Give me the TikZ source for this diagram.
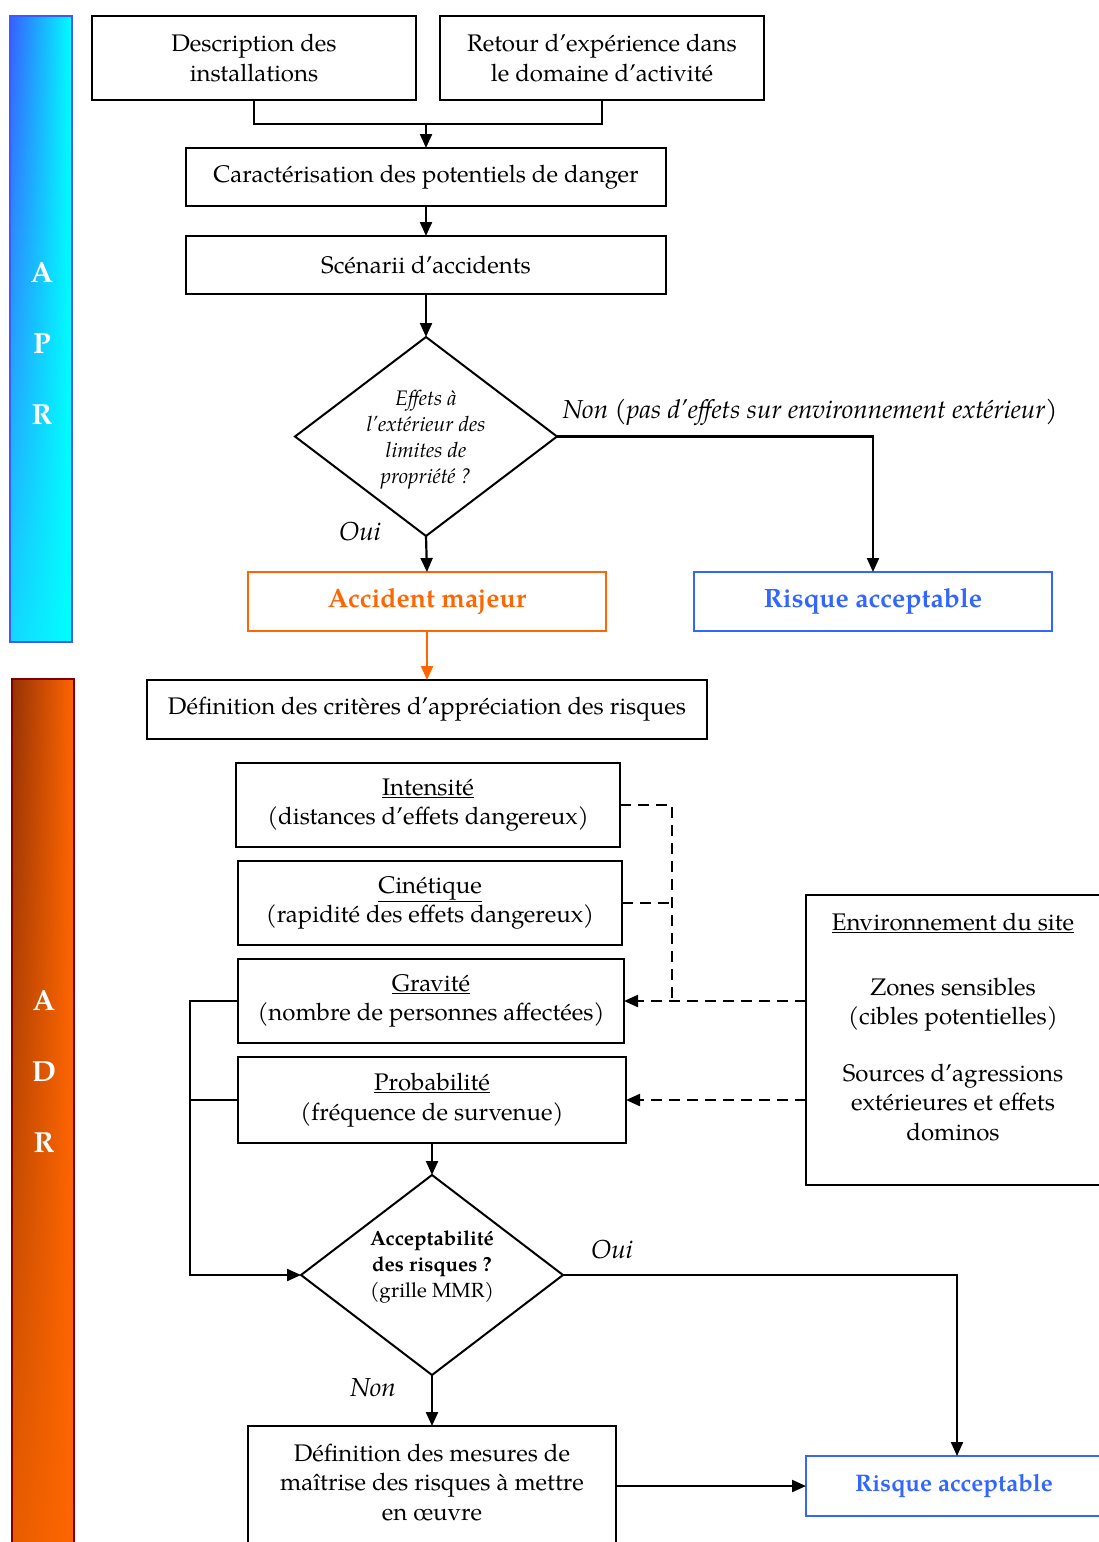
\documentclass[tikz,border=0pt]{standalone}
\usepackage{fontspec}
\setmainfont{TeX Gyre Pagella}
\usetikzlibrary{shapes.geometric,arrows.meta,shadings}
\definecolor{orng}{RGB}{255,102,0}
\definecolor{rblue}{RGB}{51,102,255}
\definecolor{aprblue}{RGB}{55,95,255}
\definecolor{aprmid}{RGB}{20,215,255}
\definecolor{aprborder}{RGB}{60,90,255}
\definecolor{adrdark}{RGB}{150,50,5}
\definecolor{adrmid}{RGB}{235,95,0}
\definecolor{adrborder}{RGB}{128,0,0}
\begin{document}
\begin{tikzpicture}[x=1pt,y=-1pt,
  every node/.style={font=\fontsize{24}{29.5}\selectfont},
  box/.style={draw, line width=2pt, inner sep=0pt, outer sep=0pt, align=center, anchor=north west},
  dia/.style={draw, diamond, line width=2pt, inner sep=0pt, outer sep=0pt},
  arr/.style={line width=2.2pt, -{Triangle[length=14pt,width=12pt]}},
  ln/.style={line width=2.2pt},
  dsh/.style={line width=2.2pt, dash pattern=on 11pt off 7pt},
  dsharr/.style={dsh, -{Triangle[length=14pt,width=12pt]}},
  lbl/.style={font=\fontsize{26}{28}\selectfont\itshape},
  bar/.style={font=\fontsize{29}{30}\selectfont\bfseries, text=white},
  hl/.style={font=\fontsize{26.5}{28}\selectfont\bfseries},
  dtxt/.style={align=center, font=\fontsize{21}{26}\selectfont\itshape},
  d2txt/.style={align=center, font=\fontsize{20.5}{26}\selectfont}
]
\useasboundingbox (0,0) rectangle (1099,1542);
\clip (0,0) rectangle (1099,1542);
\fill[white] (0,0) rectangle (1099,1542);

% --- APR bar ---
\node[anchor=north west, minimum width=62, minimum height=626, inner sep=0pt, outer sep=0pt] (apr) at (10,16) {};
\shade[upper left=aprblue, upper right=cyan, lower left=aprmid, lower right=cyan]
  (apr.north west) rectangle (apr.south east);
\draw[aprborder, line width=1.5pt] (apr.north west) rectangle (apr.south east);
\node[bar] (aprA) at (42,273) {A};
\node[bar] (aprP) at (42,344) {P};
\node[bar] (aprR) at (42,415) {R};

% --- ADR bar ---
\node[anchor=north west, minimum width=62, minimum height=900, inner sep=0pt, outer sep=0pt] (adr) at (12,679) {};
\shade[upper left=adrdark, upper right=orng, lower left=adrmid, lower right=orng]
  (adr.north west) rectangle (adr.south east);
\draw[adrborder, line width=1.5pt] (adr.north west) rectangle (adr.south east);
\node[bar] (adrA) at (44,1001) {A};
\node[bar] (adrD) at (44,1072) {D};
\node[bar] (adrR) at (44,1143) {R};

% --- top boxes ---
\node[box, minimum width=324, minimum height=84] (desc) at (92,16) {Description des\\installations};
\node[box, minimum width=324, minimum height=84] (ret) at (440,16) {Retour d’expérience dans\\le domaine d’activité};
\node[box, minimum width=480, minimum height=58] (car) at (186,148) {Caractérisation des potentiels de danger};
\node[box, minimum width=480, minimum height=58] (scen) at (186,236) {Scénarii d’accidents};
\coordinate (j1) at (426,124);
\draw[ln] (desc.south) |- (j1) -| (ret.south);
\draw[arr] (j1) -- (car.north);
\draw[arr] (car.south) -- (scen.north);

% --- diamond 1 ---
\node[dia, minimum width=262, minimum height=199] (d1) at (426,436.5) {};
\node[dtxt] (d1t) at (426,440) {Effets à\\l’extérieur des\\limites de\\propriété ?};
\draw[arr] (scen.south) -- (d1.north);

\node[box, draw=orng, minimum width=358, minimum height=59, text=orng, hl] (acc) at (248,572) {Accident majeur};
\node[box, draw=rblue, minimum width=358, minimum height=59, text=rblue, hl] (r1) at (694,572) {Risque acceptable};
\draw[arr] (d1.south) -- (acc.north);
\draw[arr] (d1.east) -| (r1.north);
\node[lbl] (non1) at (810,412) {Non (pas d’effets sur environnement extérieur)};
\node[lbl] (oui1) at (360,532) {Oui};

% --- ADR part ---
\node[box, minimum width=560, minimum height=59] (def) at (147,680) {Définition des critères d’appréciation des risques};
\draw[arr, draw=orng, -{Triangle[length=14pt,width=12pt,fill=orng]}] (acc.south) -- (def.north);

\node[box, minimum width=384, minimum height=84] (int) at (236,763) {\underline{Intensité}\\(distances d’effets dangereux)};
\node[box, minimum width=384, minimum height=84] (cin) at (238,861) {\underline{Cinétique}\\(rapidité des effets dangereux)};
\node[box, minimum width=386, minimum height=84] (grav) at (238,959) {\underline{Gravité}\\(nombre de personnes affectées)};
\node[box, minimum width=388, minimum height=86] (prob) at (238,1057) {\underline{Probabilité}\\(fréquence de survenue)};

\node[box, minimum width=296, minimum height=290] (env) at (806,895) {};
\node[align=center] (envt) at (953,1027) {\underline{Environnement du site}\\[35pt]Zones sensibles\\(cibles potentielles)\\[27pt]Sources d’agressions\\extérieures et effets\\dominos};

\coordinate (jd) at (672,1001);
\draw[dsh] (int.east) -| (jd);
\draw[dsh] (cin.east) -- (cin.east -| jd);
\draw[dsharr] (env.west |- grav.east) -- (grav.east);
\draw[dsharr] (env.west |- prob.east) -- (prob.east);

% --- diamond 2 ---
\node[dia, minimum width=262, minimum height=200] (d2) at (432,1275) {};
\node[d2txt] (d2t) at (432,1267) {\textbf{Acceptabilité}\\\textbf{des risques ?}\\(grille MMR)};
\draw[arr] (prob.south) -- (d2.north);

\coordinate (jl) at (190,1275);
\draw[arr] (grav.west) -| (jl) -- (d2.west);
\draw[ln] (prob.west) -- (prob.west -| jl);

\node[box, minimum width=368, minimum height=140] (mes) at (248,1426) {};
\node[align=center] (mest) at (432,1482) {Définition des mesures de\\maîtrise des risques à mettre\\en œuvre};
\node[box, draw=rblue, minimum width=296, minimum height=60, text=rblue,
      font=\fontsize{24}{28}\selectfont\bfseries] (r2) at (806,1456) {Risque acceptable};
\draw[arr] (d2.south) -- (mes.north);
\coordinate (r2top) at (957,1456);
\draw[arr] (d2.east) -| (r2top);
\draw[arr] (mes.east |- r2.west) -- (r2.west);
\node[lbl] (oui2) at (612,1250) {Oui};
\node[lbl] (non2) at (373,1388) {Non};
\end{tikzpicture}
\end{document}
